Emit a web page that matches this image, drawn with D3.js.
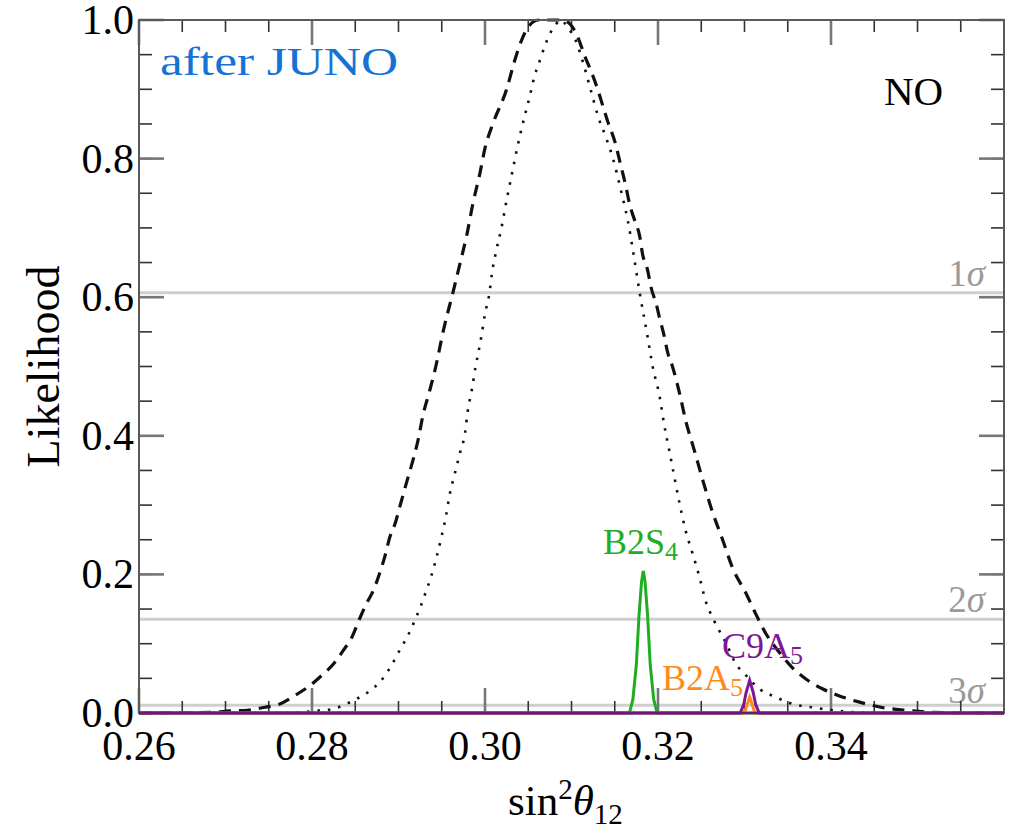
<!DOCTYPE html>
<html>
<head>
<meta charset="utf-8">
<script src="https://cdn.jsdelivr.net/npm/d3@7"></script>
<style>
body { margin:0; background:#fff; }
text { font-family:"Liberation Serif","Times New Roman",serif; }
</style>
</head>
<body>
<svg id="chart"></svg>
<script>
// values
var xTicks=[0.26,0.28,0.30,0.32,0.34];
var yTicks=[0.0,0.2,0.4,0.6,0.8,1.0];
var sigmaLevels=[0.6065,0.1353,0.0111];
var sigmaNames=["1","2","3"];

var dashedCurve=[[0.2600,0],[0.2650,0.0005],[0.2686,0.001],[0.2705,0.003],[0.2725,0.004],[0.2744,0.008],[0.2763,0.013],[0.2780,0.025],[0.2798,0.040],[0.2811,0.054],[0.2825,0.071],[0.2836,0.090],[0.2846,0.109],[0.2855,0.136],[0.2863,0.158],[0.2871,0.177],[0.2878,0.201],[0.2884,0.225],[0.2890,0.254],[0.2896,0.273],[0.2902,0.300],[0.2911,0.340],[0.2917,0.366],[0.2923,0.396],[0.2928,0.428],[0.2936,0.465],[0.2942,0.494],[0.2953,0.558],[0.2963,0.607],[0.2971,0.648],[0.2979,0.690],[0.2986,0.735],[0.2994,0.778],[0.3000,0.815],[0.3009,0.850],[0.3025,0.900],[0.3034,0.940],[0.3042,0.970],[0.3050,0.990],[0.3062,1.0],[0.3090,1.0],[0.3101,0.990],[0.3109,0.970],[0.3115,0.949],[0.3123,0.925],[0.3130,0.901],[0.3136,0.877],[0.3142,0.853],[0.3150,0.825],[0.3157,0.790],[0.3163,0.759],[0.3167,0.735],[0.3173,0.711],[0.3179,0.687],[0.3182,0.663],[0.3188,0.639],[0.3192,0.614],[0.3198,0.590],[0.3202,0.569],[0.3207,0.545],[0.3211,0.521],[0.3217,0.499],[0.3225,0.461],[0.3232,0.422],[0.3242,0.379],[0.3252,0.335],[0.3263,0.290],[0.3275,0.249],[0.3286,0.210],[0.3302,0.172],[0.3313,0.143],[0.3325,0.114],[0.3340,0.088],[0.3355,0.066],[0.3371,0.049],[0.3390,0.035],[0.3409,0.025],[0.3432,0.016],[0.3459,0.008],[0.3486,0.004],[0.3517,0.001],[0.3560,0],[0.3600,0]];

var dottedCurve=[[0.2600,0],[0.2750,0],[0.2786,0.001],[0.2811,0.004],[0.2825,0.006],[0.2836,0.011],[0.2848,0.018],[0.2867,0.032],[0.2878,0.044],[0.2892,0.069],[0.2902,0.092],[0.2911,0.112],[0.2919,0.134],[0.2925,0.152],[0.2932,0.176],[0.2938,0.198],[0.2944,0.225],[0.2950,0.256],[0.2955,0.285],[0.2959,0.314],[0.2965,0.345],[0.2971,0.375],[0.2977,0.405],[0.2980,0.435],[0.2985,0.468],[0.2989,0.499],[0.2992,0.518],[0.2996,0.545],[0.3000,0.576],[0.3005,0.605],[0.3008,0.634],[0.3013,0.667],[0.3019,0.700],[0.3025,0.740],[0.3030,0.771],[0.3035,0.802],[0.3040,0.831],[0.3046,0.862],[0.3052,0.891],[0.3057,0.918],[0.3063,0.940],[0.3069,0.962],[0.3075,0.980],[0.3082,0.994],[0.3088,1.0],[0.3095,0.99],[0.3105,0.97],[0.3113,0.94],[0.3122,0.90],[0.3131,0.86],[0.3140,0.83],[0.3148,0.80],[0.3157,0.755],[0.3165,0.711],[0.3172,0.66],[0.3179,0.605],[0.3187,0.55],[0.3194,0.499],[0.3202,0.456],[0.3207,0.417],[0.3213,0.379],[0.3219,0.340],[0.3225,0.302],[0.3232,0.263],[0.3240,0.230],[0.3248,0.196],[0.3255,0.162],[0.3265,0.133],[0.3279,0.100],[0.3290,0.071],[0.3302,0.054],[0.3317,0.035],[0.3336,0.023],[0.3356,0.013],[0.3379,0.008],[0.3402,0.004],[0.3430,0.001],[0.3460,0],[0.3600,0]];

var b2s4=[[0.2600,0],[0.3167,0],[0.3171,0.02],[0.3175,0.07],[0.3178,0.14],[0.3181,0.19],[0.3183,0.205],[0.3185,0.19],[0.3188,0.14],[0.3191,0.07],[0.3195,0.02],[0.3199,0],[0.3600,0]];
var b2a5=[[0.2600,0],[0.3300,0],[0.3303,0.012],[0.3306,0.023],[0.3309,0.012],[0.3312,0],[0.3600,0]];
var c9a5=[[0.2600,0],[0.3295,0],[0.3299,0.012],[0.3302,0.03],[0.3306,0.047],[0.3310,0.03],[0.3313,0.012],[0.3317,0],[0.3600,0]];

var width=1015, height=835;
var plotLeft=139, plotRight=1004, plotTop=20, plotBottom=713;

var svg=d3.select("#chart").attr("width",width).attr("height",height);

var x=d3.scaleLinear().domain([0.26,0.36]).range([plotLeft,plotRight]);
var y=d3.scaleLinear().domain([0,1]).range([plotBottom,plotTop]);

var xMinor=d3.range(0.26,0.36,0.005);
var yMinor=d3.range(0,1.0001,0.05);

// sigma lines
svg.selectAll(".sigma").data(sigmaLevels).enter().append("line")
	.attr("x1",plotLeft).attr("x2",plotRight)
	.attr("y1",function(d){return y(d);}).attr("y2",function(d){return y(d);})
	.attr("stroke","#cfcfcf").attr("stroke-width",3);

svg.selectAll(".sigmaLabel").data(sigmaLevels).enter().append("text")
	.attr("x",985).attr("y",function(d,i){return y(d)-(i==2?2:7);})
	.attr("text-anchor","end").attr("fill","#9a9a9a").style("font-size","37px")
	.each(function(d,i){
		var t=d3.select(this);
		t.append("tspan").text(sigmaNames[i]);
		t.append("tspan").style("font-style","italic").text("\u03c3");
	});

// ticks: minor dark thin, major grey thick, all inward
function xticks(vals,len,color,w) {
	var g=svg.append("g").attr("stroke",color).attr("stroke-width",w);
	vals.forEach(function(v){
		g.append("line").attr("x1",x(v)).attr("x2",x(v)).attr("y1",plotBottom).attr("y2",plotBottom-len);
		g.append("line").attr("x1",x(v)).attr("x2",x(v)).attr("y1",plotTop).attr("y2",plotTop+len);
	});
}
function yticks(vals,len,color,w) {
	var g=svg.append("g").attr("stroke",color).attr("stroke-width",w);
	vals.forEach(function(v){
		g.append("line").attr("y1",y(v)).attr("y2",y(v)).attr("x1",plotLeft).attr("x2",plotLeft+len);
		g.append("line").attr("y1",y(v)).attr("y2",y(v)).attr("x1",plotRight).attr("x2",plotRight-len);
	});
}
xticks(xMinor,12,"#333",1.6);
xticks(xTicks,25,"#777",2.6);
yticks(yMinor,13,"#333",1.6);
yticks(yTicks,25,"#777",2.6);

// curves
var line=d3.line().x(function(d){return x(d[0]);}).y(function(d){return y(d[1]);});
var smooth=d3.line().curve(d3.curveMonotoneX).x(function(d){return x(d[0]);}).y(function(d){return y(d[1]);});

svg.append("path").attr("d",smooth(dottedCurve)).attr("fill","none")
	.attr("stroke","#111").attr("stroke-width",2.6).attr("stroke-dasharray","2.5,8");
svg.append("path").attr("d",smooth(dashedCurve)).attr("fill","none")
	.attr("stroke","#111").attr("stroke-width",3.2).attr("stroke-dasharray","12,8");

svg.append("path").attr("d",line(b2s4)).attr("fill","none").attr("stroke","#1fae1f").attr("stroke-width",3);
svg.append("path").attr("d",line(b2a5)).attr("fill","none").attr("stroke","#ff8a1c").attr("stroke-width",3);
svg.append("path").attr("d",line(c9a5)).attr("fill","none").attr("stroke","#7e1796").attr("stroke-width",3);

// frame
svg.append("rect").attr("x",plotLeft).attr("y",plotTop).attr("width",plotRight-plotLeft).attr("height",plotBottom-plotTop)
	.attr("fill","none").attr("stroke","#5a5a5a").attr("stroke-width",2);
svg.append("line").attr("x1",plotLeft).attr("x2",plotRight).attr("y1",plotBottom).attr("y2",plotBottom)
	.attr("stroke","#6a1a7e").attr("stroke-width",2.5);

// tick labels
svg.selectAll(".xl").data(xTicks).enter().append("text")
	.attr("x",function(d){return x(d);}).attr("y",760)
	.attr("text-anchor","middle").style("font-size","42px")
	.text(function(d){return d.toFixed(2);});
svg.selectAll(".yl").data(yTicks).enter().append("text")
	.attr("x",134).attr("y",function(d){return y(d)+14;})
	.attr("text-anchor","end").style("font-size","42px")
	.text(function(d){return d.toFixed(1);});

// axis titles
svg.append("text").attr("transform","translate(59,"+((plotTop+plotBottom)/2)+") rotate(-90)")
	.attr("text-anchor","middle").style("font-size","46px").text("Likelihood");

var xt=svg.append("text").attr("x",508).attr("y",815).style("font-size","43px");
xt.append("tspan").text("sin");
xt.append("tspan").attr("dy",-16).style("font-size","29px").text("2");
xt.append("tspan").attr("dy",16).style("font-style","italic").text("\u03b8");
xt.append("tspan").attr("dy",9).style("font-size","29px").text("12");

// annotations
svg.append("text").attr("x",160).attr("y",75).attr("fill","#1673d4")
	.attr("textLength",238).attr("lengthAdjust","spacingAndGlyphs")
	.style("font-size","40px").text("after JUNO");
svg.append("text").attr("x",884).attr("y",105).style("font-size","41px").text("NO");

function tag(px,py,name,sub,color) {
	var t=svg.append("text").attr("x",px).attr("y",py).attr("fill",color).style("font-size","36px");
	t.append("tspan").text(name);
	t.append("tspan").attr("dy",6).style("font-size","26px").text(sub);
}
tag(603,554,"B2S","4","#1fae1f");
tag(662,690,"B2A","5","#ff8a1c");
tag(722,658,"C9A","5","#7e1796");
</script>
</body>
</html>
